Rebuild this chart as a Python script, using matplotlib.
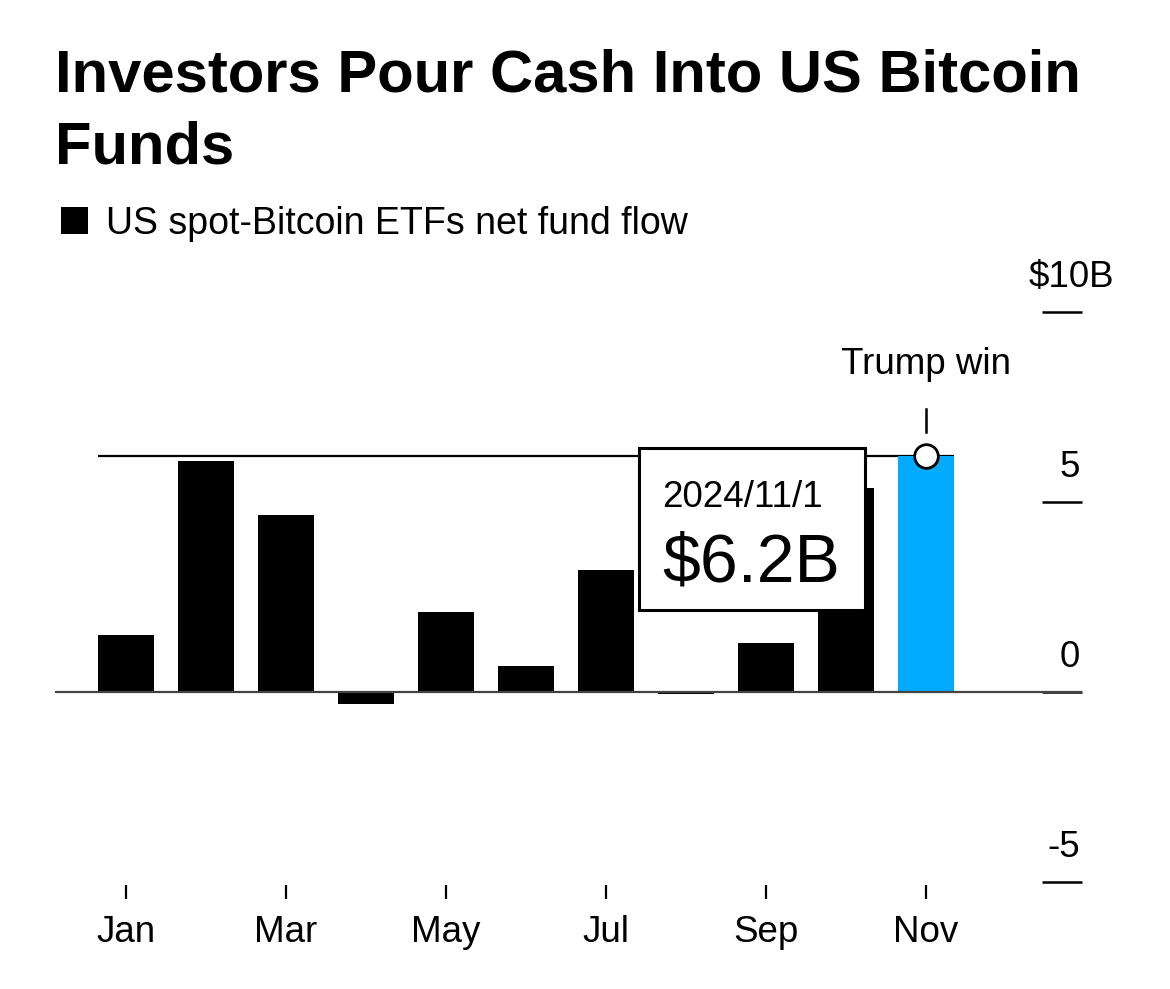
import matplotlib
matplotlib.use("Agg")
import matplotlib.pyplot as plt
import matplotlib.transforms as mtransforms
from matplotlib.patches import Rectangle

# monthly net flows, $ billions (2024)
months = ["Jan", "Feb", "Mar", "Apr", "May", "Jun", "Jul", "Aug", "Sep", "Oct", "Nov"]
flows = [1.5, 6.08, 4.65, -0.31, 2.1, 0.68, 3.2, -0.06, 1.29, 5.38, 6.2]
tick_months = ["Jan", "Mar", "May", "Jul", "Sep", "Nov"]
y_ticks = [-5, 0, 5, 10]
y_labels = ["-5", "0", "5", "$10B"]
highlight_date = "2024/11/1"
highlight_label = "$6.2B"
event_label = "Trump win"

BLUE = "#00aaff"
plt.rcParams["font.family"] = ["Liberation Sans", "DejaVu Sans"]

W, H = 1170, 989
fig = plt.figure(figsize=(W / 100, H / 100), dpi=100)
fig.patch.set_facecolor("white")

# axes box: x 55..1082 px, y 312 (10) .. 882 (-5) px
ax = fig.add_axes([55 / W, (H - 882) / H, (1082 - 55) / W, (882 - 312) / H])
ax.set_xlim(-0.8875, 11.95)
ax.set_ylim(-5, 10)
for s in ax.spines.values():
    s.set_visible(False)

x = list(range(len(months)))
colors = ["black"] * (len(months) - 1) + [BLUE]
ax.bar(x, flows, width=0.7, color=colors, zorder=3)

# zero baseline
ax.axhline(0, color="#444444", lw=1.6, zorder=4)

# reference line at the latest value
ax.hlines(flows[-1], x[0] - 0.35, x[-1] + 0.35, color="black", lw=1.6, zorder=2)

# month ticks
ax.set_xticks([months.index(m) for m in tick_months])
ax.set_xticklabels(tick_months, fontsize=26.5)
ax.tick_params(axis="x", length=10, width=1.6, pad=14, color="black", direction="out")
off = mtransforms.ScaledTranslation(0, -3 / 100, fig.dpi_scale_trans)
for t in ax.xaxis.get_major_ticks():
    t.tick1line.set_transform(t.tick1line.get_transform() + off)

# right-side dashes as y ticks, labels sit above them
ax.set_yticks(y_ticks)
ax.tick_params(axis="y", left=False, right=True, direction="in", length=29,
               width=1.8, labelleft=False, labelright=False, color="black")

for v, lab in zip(y_ticks, y_labels):
    dx = 32 if lab.endswith("B") else -2
    ax.annotate(lab, xy=(1, v), xycoords=("axes fraction", "data"),
                xytext=(dx, 25), textcoords="offset pixels",
                ha="right", va="baseline", fontsize=26.5)

# event marker
nx, nv = x[-1], flows[-1]
ax.plot([nx], [nv], "o", ms=17, mfc="white", mec="black", mew=2, zorder=6, clip_on=False)
ax.plot([nx, nx], [nv + 0.65, nv + 1.25], color="black", lw=1.8, zorder=5)
ax.annotate(event_label, xy=(nx, nv), xytext=(0, 82), textcoords="offset pixels",
            ha="center", va="baseline", fontsize=26.5)

# tooltip box
bx0, bx1 = 6.4125, 9.2375
by0, by1 = 2.16, 6.42
ax.add_patch(Rectangle((bx0, by0), bx1 - bx0, by1 - by0, facecolor="white",
                       edgecolor="black", lw=2.2, zorder=7))
ax.text(6.7, 4.87, highlight_date, fontsize=26.5, ha="left", va="baseline", zorder=8)
ax.text(6.7, 2.92, highlight_label, fontsize=49, ha="left", va="baseline", zorder=8)

# title and legend
fig.text(55 / W, 1 - 92 / H, "Investors Pour Cash Into US Bitcoin", fontsize=43,
         fontweight="bold", ha="left", va="baseline")
fig.text(55 / W, 1 - 163 / H, "Funds", fontsize=43, fontweight="bold",
         ha="left", va="baseline")
fig.patches.append(Rectangle((61 / W, 1 - 234 / H), 27 / W, 27 / H, facecolor="black",
                             transform=fig.transFigure, figure=fig))
fig.text(106 / W, 1 - 234 / H, "US spot-Bitcoin ETFs net fund flow", fontsize=27,
         ha="left", va="baseline")

fig.savefig("out.png", dpi=100, facecolor="white")
